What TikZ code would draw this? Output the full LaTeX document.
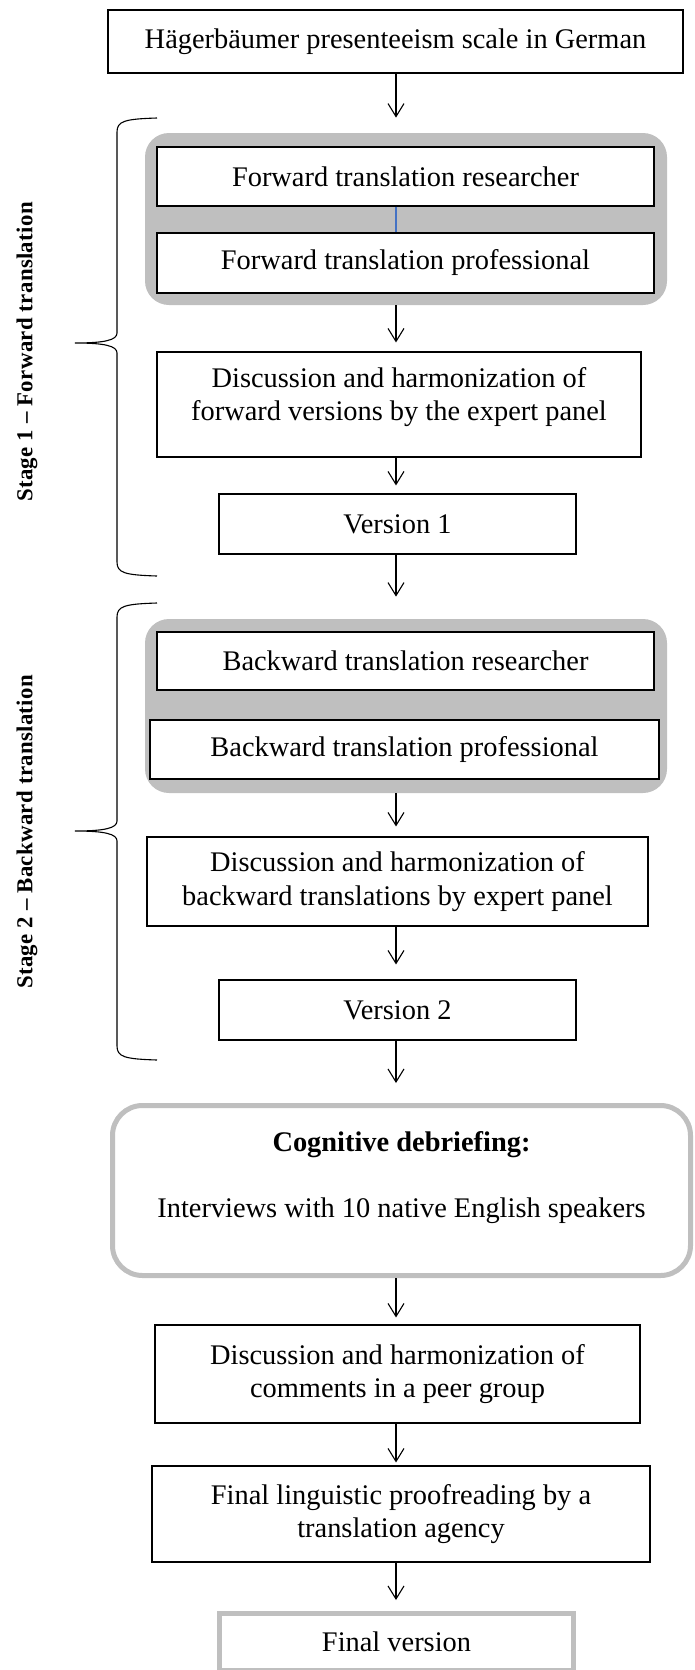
\documentclass[tikz,border=0pt]{standalone}
\usepackage{fontspec}
\setmainfont{Liberation Serif}
\newfontfamily\stagefont[LetterSpace=1.5]{Liberation Serif}
\usetikzlibrary{arrows.meta}
\definecolor{panel}{RGB}{191,191,191}
\definecolor{seam}{RGB}{68,114,196}
\newcommand\bodysize{\fontsize{14.2pt}{16.6pt}\selectfont}

\begin{document}
\begin{tikzpicture}[x=0.5pt, y=-0.5pt,
  box/.style={draw, line width=0.55pt, fill=white, align=center, inner sep=0pt, font=\bodysize},
  pool/.style={fill=panel, rounded corners=12pt, inner sep=0pt},
  halo/.style={draw=panel, line width=2.5pt, fill=white, align=center, inner sep=0pt, font=\bodysize},
  link/.style={-{Straight Barb[length=6.5pt, width=8pt]}, line width=0.55pt},
  stage/.style={rotate=90, font=\stagefont\bfseries\fontsize{11.4pt}{13pt}\selectfont}]
\useasboundingbox (0,0) rectangle (695,1670);
\coordinate (spine) at (396,0);
% grey panels behind the paired translations
\node[pool, minimum width=261pt, minimum height=86pt] (grpA) at (406,219) {};
\node[pool, minimum width=261pt, minimum height=87pt] (grpB) at (406,706) {};
% the flow
\node[box, minimum width=287.5pt, minimum height=31.5pt] (top) at (395.5,41.5) {Hägerbäumer presenteeism scale in German};
\node[box, minimum width=248.5pt, minimum height=29.5pt] (fwdres) at (405.5,176.5) {Forward translation researcher};
\node[box, minimum width=248.5pt, minimum height=30pt] (fwdpro) at (405.5,263) {Forward translation professional};
\node[box, minimum width=242pt, minimum height=52.5pt] (fwddisc) at (399,404.5) {Discussion and harmonization of\\forward versions by the expert panel\\[-6pt]\mbox{}};
\node[box, minimum width=178.5pt, minimum height=30pt] (ver1) at (397.5,524) {Version 1};
\node[box, minimum width=248.5pt, minimum height=29pt] (bwdres) at (405.5,661) {Backward translation researcher};
\node[box, minimum width=254.5pt, minimum height=29.5pt] (bwdpro) at (404.5,749.5) {Backward translation professional};
\node[box, minimum width=250.5pt, minimum height=44.5pt] (bwddisc) at (397.5,881.5) {Discussion and harmonization of\\backward translations by expert panel};
\node[box, minimum width=178.5pt, minimum height=30pt] (ver2) at (397.5,1010) {Version 2};
\node[halo, rounded corners=15pt, minimum width=289pt, minimum height=85pt] (cog) at (401.5,1190.5)
  {\textbf{Cognitive debriefing:}\\[16.4pt]Interviews with 10 native English speakers\\[-1pt]\mbox{}};
\node[box, minimum width=242.5pt, minimum height=49pt] (peer) at (397.5,1374) {Discussion and harmonization of\\comments in a peer group};
\node[box, minimum width=249pt, minimum height=48pt] (proof) at (401,1514) {Final linguistic proofreading by a\\translation agency};
\node[halo, minimum width=177pt, minimum height=28.5pt] (final) at (396.5,1642) {Final version};
\draw[seam, line width=0.6pt] (fwdres.south -| spine) -- (fwdpro.north -| spine);
\foreach \a/\b/\g in {top/grpA/7.5pt, grpA/fwddisc/4.5pt, fwddisc/ver1/4pt, ver1/grpB/11pt, grpB/bwddisc/5pt, bwddisc/ver2/7.5pt, ver2/cog/10pt, cog/peer/3.5pt, peer/proof/1.5pt, proof/final/5.5pt}
  { \draw[link, shorten >=\g] (\a.south -| spine) -- (\b.north -| spine); }
% stage braces and labels
\foreach \t/\m/\b in {121/343/573, 606/831/1057}
  { \draw[line width=0.55pt] (157,\t-3) .. controls (125,\t-2) and (117,\t) .. (117,\t+11) -- (117,\m-10) .. controls (117,\m-3) and (105,\m) .. (75,\m) .. controls (105,\m) and (117,\m+3) .. (117,\m+10) -- (117,\b-11) .. controls (117,\b) and (125,\b+2) .. (157,\b+3); }
\node[stage] (stA) at (27,352) {Stage 1 – Forward translation};
\node[stage] (stB) at (27,832) {Stage 2 – Backward translation};
\end{tikzpicture}
\end{document}
